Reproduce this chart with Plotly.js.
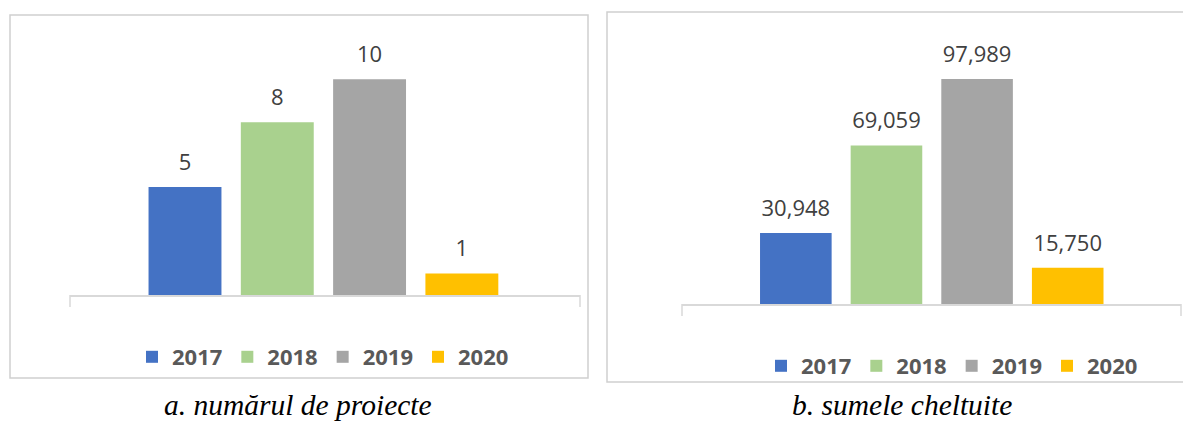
<!DOCTYPE html>
<html>
<head>
<meta charset="utf-8">
<script src="https://cdn.plot.ly/plotly-3.0.1.min.js"></script>
<style>html,body{margin:0;padding:0;background:#fff;}#chart{width:1183px;height:421px;}</style>
</head>
<body>
<div id="chart"></div>
<script>
// ---- data ----
const years = ["2017", "2018", "2019", "2020"];
const projectCounts = [5, 8, 10, 1];
const amountsSpent = [30948, 69059, 97989, 15750];
const barColors = ["#4472C4", "#A9D18E", "#A5A5A5", "#FFC000"];
const captionA = "a. numărul de proiecte";
const captionB = "b. sumele cheltuite";

const W = 1183, H = 421;
const px = v => v / W;
const py = v => (H - v) / H;

const labelFont = {family: "Open Sans", size: 22, color: "#404040"};
const traces = [];

function addPanel(values, xa, ya, legendName, fmt) {
  years.forEach((yr, i) => {
    traces.push({
      type: "bar", x: [yr], y: [values[i]], name: yr,
      xaxis: xa, yaxis: ya, legend: legendName,
      marker: {color: barColors[i]}, width: 0.79,
      hoverinfo: "skip"
    });
  });
  traces.push({
    type: "scatter", mode: "markers+text", x: years, y: values,
    xaxis: xa, yaxis: ya, showlegend: false,
    marker: {size: 17, opacity: 0}, texttemplate: fmt,
    textposition: "top center", textfont: labelFont,
    cliponaxis: false, hoverinfo: "skip"
  });
}
addPanel(projectCounts, "x", "y", "legend", "%{y}");
addPanel(amountsSpent, "x2", "y2", "legend2", "%{y:,}");

const axisLine = {type: "category", categoryorder: "array", categoryarray: years,
  showline: true, linecolor: "#d9d9d9", linewidth: 1.5, ticks: "",
  showticklabels: false, showgrid: false, zeroline: false, fixedrange: true};
const hiddenY = {visible: false, showgrid: false, zeroline: false, fixedrange: true};

const legendBase = {orientation: "h", xanchor: "center", yanchor: "middle",
  bgcolor: "rgba(0,0,0,0)", itemclick: false, itemdoubleclick: false,
  font: {family: "Open Sans", size: 22, weight: "bold", color: "#595959"}};

function endTicks(xref, yref, plotHeightPx) {
  const d = 12 / plotHeightPx;
  return [0, 1].map(xv => ({type: "line", xref: xref + " domain", yref: yref + " domain",
    x0: xv, x1: xv, y0: 0, y1: -d,
    line: {color: "#d9d9d9", width: 1.5}}));
}

const layout = {
  width: W, height: H, margin: {l: 0, r: 0, t: 0, b: 0},
  paper_bgcolor: "#fff", plot_bgcolor: "rgba(0,0,0,0)",
  barmode: "overlay", showlegend: true, hovermode: false,
  xaxis: Object.assign({}, axisLine, {domain: [px(70), px(580)], anchor: "y", range: [-1.246, 4.28]}),
  yaxis: Object.assign({}, hiddenY, {domain: [py(295), py(36)], anchor: "x", range: [0, 12]}),
  xaxis2: Object.assign({}, axisLine, {domain: [px(682), px(1181)], anchor: "y2", range: [-1.256, 4.25]}),
  yaxis2: Object.assign({}, hiddenY, {domain: [py(304), py(28.5)], anchor: "x2", range: [0, 120000]}),
  legend: Object.assign({}, legendBase, {x: px(323), y: py(357)}),
  legend2: Object.assign({}, legendBase, {x: px(952), y: py(366)}),
  shapes: [
    {type: "rect", xref: "paper", yref: "paper", x0: px(10), x1: px(588), y0: py(378), y1: py(15),
      line: {color: "#d0d0d0", width: 1.5}, fillcolor: "rgba(0,0,0,0)"},
    {type: "rect", xref: "paper", yref: "paper", x0: px(607), x1: px(1195), y0: py(382), y1: py(12),
      line: {color: "#d0d0d0", width: 1.5}, fillcolor: "rgba(0,0,0,0)"}
  ].concat(endTicks("x", "y", 295 - 36), endTicks("x2", "y2", 304 - 28.5)),
  annotations: [
    {text: captionA, xref: "paper", yref: "paper", x: px(297.5), y: py(405), xanchor: "center", yanchor: "middle",
      showarrow: false, font: {family: "Liberation Serif", size: 29.5, style: "italic", color: "#000"}},
    {text: captionB, xref: "paper", yref: "paper", x: px(901.5), y: py(405), xanchor: "center", yanchor: "middle",
      showarrow: false, font: {family: "Liberation Serif", size: 29.5, style: "italic", color: "#000"}}
  ]
};

Plotly.newPlot("chart", traces, layout, {displayModeBar: false, staticPlot: true});
</script>
</body>
</html>
